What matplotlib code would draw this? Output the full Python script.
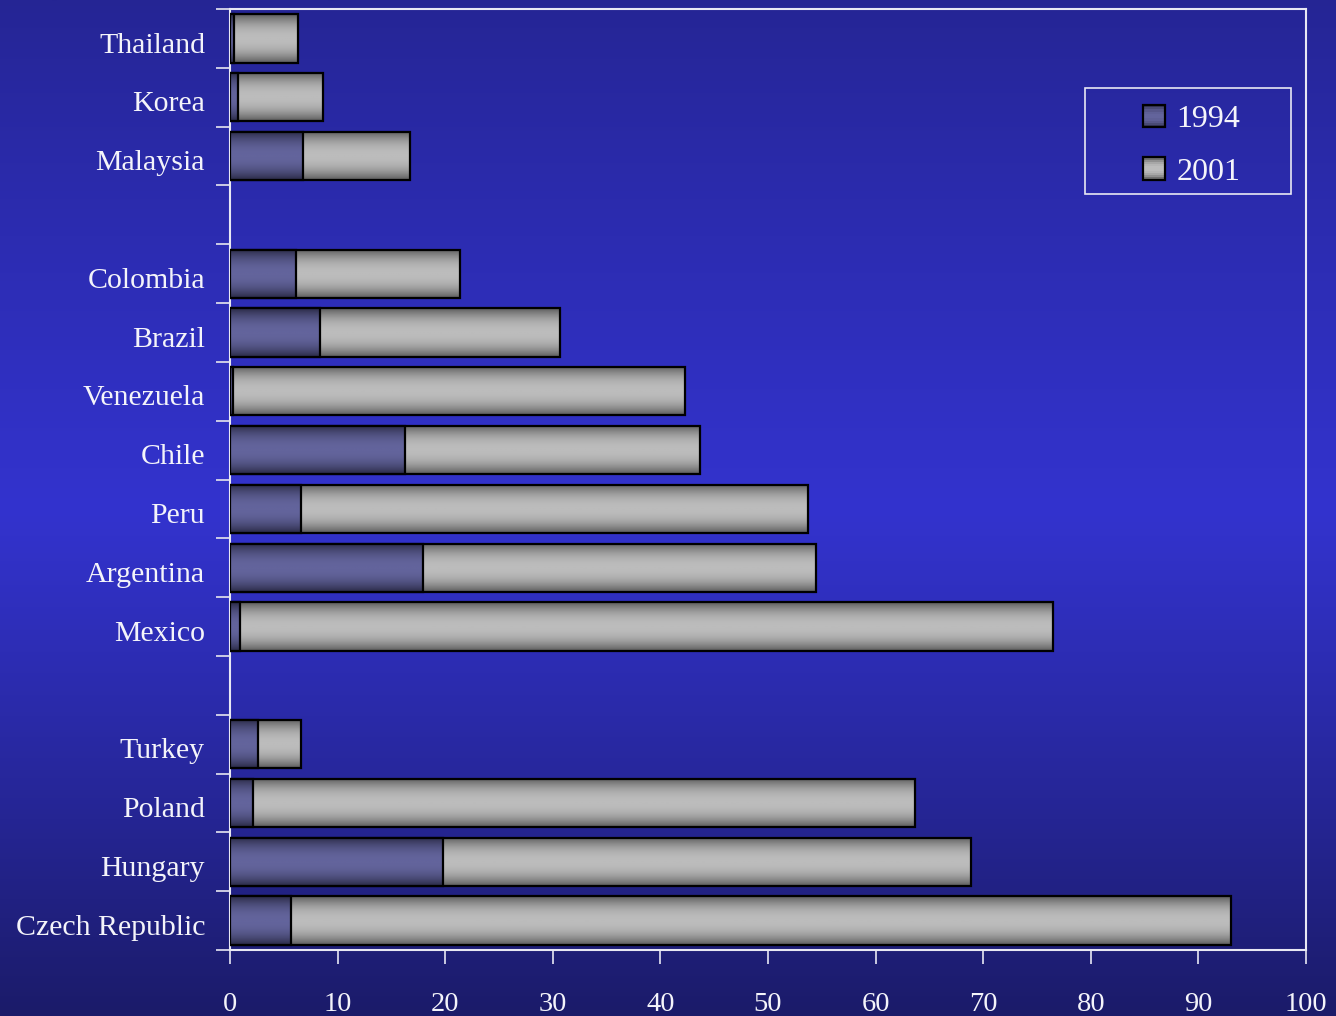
import numpy as np
import matplotlib
matplotlib.use("Agg")
import matplotlib.pyplot as plt
import matplotlib.transforms as mtransforms
from matplotlib.patches import Rectangle
from matplotlib.legend_handler import HandlerBase
from matplotlib.colors import LinearSegmentedColormap

# Countries from top to bottom; empty strings are spacer rows between regions
countries = ["Thailand", "Korea", "Malaysia", "",
             "Colombia", "Brazil", "Venezuela", "Chile", "Peru", "Argentina", "Mexico", "",
             "Turkey", "Poland", "Hungary", "Czech Republic"]
share_1994 = [0.4, 0.75, 6.8, None,
              6.1, 8.4, 0.3, 16.3, 6.6, 17.9, 0.9, None,
              2.6, 2.1, 19.8, 5.7]
share_2001 = [6.3, 8.6, 16.7, None,
              21.4, 30.7, 42.3, 43.7, 53.7, 54.5, 76.5, None,
              6.6, 63.7, 68.9, 93.0]
series_labels = ["1994", "2001"]
x_ticks = list(range(0, 101, 10))

FONT = "Liberation Serif"
TXT = "#f4f4fa"
LINE = "#e8e8f4"

# Vertical shading across a bar: dark edges, bright middle
prof = np.linspace(0, 1, 64)
shade = 1 - np.abs(2 * prof - 1) ** 2.2
cmap_2001 = LinearSegmentedColormap.from_list("g", ["#5c5c5c", "#bcbcbc"])
cmap_1994 = LinearSegmentedColormap.from_list("b", ["#2a2a46", "#63649c"])

fig = plt.figure(figsize=(13.36, 10.16), dpi=100)

# Figure background: dark navy at top and bottom, bright blue in the middle
bg = fig.add_axes([0, 0, 1, 1], zorder=-10)
yy = np.linspace(0, 1, 512)
top = np.array([37, 37, 148]) / 255
mid = np.array([51, 51, 206]) / 255
bot = np.array([27, 27, 105]) / 255
cols = np.empty((512, 1, 3))
for i, t in enumerate(yy):
    if t < 0.5:
        w = (t / 0.5) ** 0.9
        cols[i, 0] = top * (1 - w) + mid * w
    else:
        w = ((t - 0.5) / 0.5) ** 1.1
        cols[i, 0] = mid * (1 - w) + bot * w
bg.imshow(cols, aspect="auto", extent=(0, 1, 0, 1), origin="upper")
bg.set_axis_off()

ax = fig.add_axes([230 / 1336, 1 - 950 / 1016, 1076 / 1336, 941 / 1016])
ax.set_facecolor("none")

n = len(countries)
ypos = np.arange(n)
h = 0.82


def shaded_bars(values, cmap, z):
    for y, v in zip(ypos, values):
        if v is None:
            continue
        bar = ax.barh(y, v, height=h, left=0, facecolor="none",
                      edgecolor="black", linewidth=1.6, zorder=z + 1)[0]
        img = ax.imshow(shade[:, None], cmap=cmap, vmin=0, vmax=1,
                        aspect="auto", extent=(0, v, y + h / 2, y - h / 2),
                        origin="upper", zorder=z, interpolation="bilinear")
        img.set_clip_path(bar)


shaded_bars(share_2001, cmap_2001, 2)
shaded_bars(share_1994, cmap_1994, 4)

ax.set_xlim(0, 100)
ax.set_ylim(n - 0.5, -0.5)
ax.set_aspect("auto")

for s in ax.spines.values():
    s.set_color(LINE)
    s.set_linewidth(1.5)

ax.set_xticks(x_ticks)
ax.set_xticklabels([str(t) for t in x_ticks], fontfamily=FONT, fontsize=20.5, color=TXT)
ax.tick_params(axis="x", direction="out", length=10, width=1.3, color="#d8d8ea", pad=20)

ax.set_yticks(ypos)
ax.set_yticklabels(countries, fontfamily=FONT, fontsize=21.5, color=TXT)
ax.tick_params(axis="y", which="major", length=0, pad=18)
ax.set_yticks(np.arange(-0.5, n, 1), minor=True)
ax.tick_params(axis="y", which="minor", direction="out", length=10, width=1.3, color="#d8d8ea")

# Nudge country names slightly down
shift = mtransforms.ScaledTranslation(0, -3 / 72, fig.dpi_scale_trans)
for lbl in ax.get_yticklabels():
    lbl.set_transform(lbl.get_transform() + shift)


class ShadedHandler(HandlerBase):
    def __init__(self, cmap):
        super().__init__()
        self.cmap = cmap

    def create_artists(self, legend, orig_handle, xd, yd, width, height, fontsize, trans):
        arts = []
        k = 10
        for i in range(k):
            t = (i + 0.5) / k
            c = self.cmap(1 - abs(2 * t - 1) ** 2.2)
            arts.append(Rectangle((-xd, -yd + height * i / k), width, height / k,
                                  facecolor=c, edgecolor="none", transform=trans))
        arts.append(Rectangle((-xd, -yd), width, height, facecolor="none",
                              edgecolor="black", linewidth=1.6, transform=trans))
        return arts


h1 = Rectangle((0, 0), 1, 1)
h2 = Rectangle((0, 0), 1, 1)
leg = fig.legend([h1, h2], series_labels,
                 handler_map={h1: ShadedHandler(cmap_1994), h2: ShadedHandler(cmap_2001)},
                 loc="upper left", bbox_to_anchor=(1143 / 1336, 1 - 105 / 1016),
                 bbox_transform=fig.transFigure,
                 prop={"family": FONT, "size": 23}, labelcolor=TXT,
                 handlelength=0.7, handleheight=0.7, handletextpad=0.35,
                 borderpad=0, borderaxespad=0, labelspacing=0.72,
                 frameon=False)
leg.set_zorder(10)

# Legend frame box
fig.patches.append(Rectangle((1085 / 1336, 1 - 194 / 1016), 206 / 1336, 106 / 1016,
                             transform=fig.transFigure, facecolor="none",
                             edgecolor=LINE, linewidth=1.2, zorder=9))

fig.savefig("out.png", dpi=100)
